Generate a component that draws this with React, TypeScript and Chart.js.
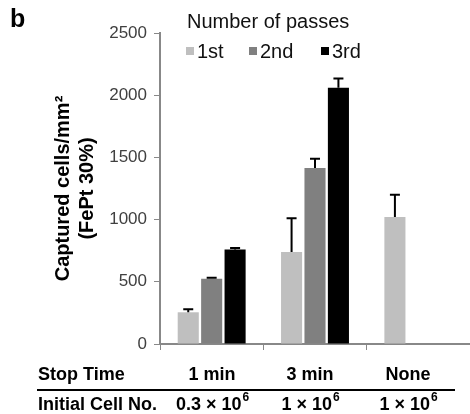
import React, { useEffect, useRef } from "react";
import { Chart, registerables } from "chart.js";

Chart.register(...registerables);

const categories = ["1 min", "3 min", "None"];
const cellNumbers = [["0.3 × 10", "6"], ["1 × 10", "6"], ["1 × 10", "6"]];
const passLabels = ["1st", "2nd", "3rd"];
const firstPass: (number | null)[] = [255, 740, 1020];
const firstErr = [25, 270, 180];
const secondPass: (number | null)[] = [525, 1415, null];
const secondErr = [8, 75, 0];
const thirdPass: (number | null)[] = [760, 2060, null];
const thirdErr = [12, 75, 0];
const yTicks = [0, 500, 1000, 1500, 2000, 2500];

const colors = ["#bfbfbf", "#808080", "#000000"];
const errors = [firstErr, secondErr, thirdErr];
const FONT = "'Liberation Sans', Arial, sans-serif";

const errorBarPlugin = {
  id: "errorBars",
  afterDatasetsDraw(chart: any) {
    const ctx = chart.ctx;
    const y = chart.scales.y;
    ctx.save();
    ctx.strokeStyle = "#000";
    ctx.lineWidth = 2;
    chart.data.datasets.forEach((ds: any, i: number) => {
      const meta = chart.getDatasetMeta(i);
      meta.data.forEach((bar: any, j: number) => {
        const v = ds.data[j];
        const e = errors[i][j];
        if (v == null || !e) return;
        const top = y.getPixelForValue(v + e);
        ctx.beginPath();
        ctx.moveTo(bar.x, bar.y);
        ctx.lineTo(bar.x, top);
        ctx.moveTo(bar.x - 5, top);
        ctx.lineTo(bar.x + 5, top);
        ctx.stroke();
      });
    });
    ctx.restore();
  },
};

const decorPlugin = {
  id: "decor",
  afterDraw(chart: any) {
    const ctx = chart.ctx;
    ctx.save();
    ctx.fillStyle = "#000";
    ctx.font = `bold 25px ${FONT}`;
    ctx.textBaseline = "alphabetic";
    ctx.textAlign = "left";
    ctx.fillText("b", 10, 27);

    ctx.font = `20px ${FONT}`;
    ctx.fillStyle = "#111";
    ctx.textBaseline = "middle";
    ctx.fillText("Number of passes", 187, 22);
    const itemX = [186, 249, 321];
    passLabels.forEach((lab, i) => {
      ctx.fillStyle = colors[i];
      ctx.fillRect(itemX[i], 47, 8, 8);
      ctx.fillStyle = "#111";
      ctx.fillText(lab, itemX[i] + 11, 52);
    });

    ctx.fillStyle = "#000";
    ctx.font = `bold 18px ${FONT}`;
    ctx.textAlign = "left";
    ctx.fillText("Stop Time", 38, 375);
    ctx.fillText("Initial Cell No.", 38, 405);
    const colX = [212, 310, 408];
    categories.forEach((c, i) => {
      ctx.textAlign = "center";
      ctx.font = `bold 18px ${FONT}`;
      ctx.fillText(c, colX[i], 375);
      const [base, sup] = cellNumbers[i];
      ctx.font = `bold 18px ${FONT}`;
      const wb = ctx.measureText(base).width;
      ctx.font = `bold 12px ${FONT}`;
      const ws = ctx.measureText(sup).width;
      const start = colX[i] - (wb + ws) / 2;
      ctx.textAlign = "left";
      ctx.font = `bold 18px ${FONT}`;
      ctx.fillText(base, start, 405);
      ctx.font = `bold 12px ${FONT}`;
      ctx.fillText(sup, start + wb + 1, 398);
    });
    ctx.strokeStyle = "#000";
    ctx.lineWidth = 2;
    ctx.beginPath();
    ctx.moveTo(37, 390);
    ctx.lineTo(455, 390);
    ctx.stroke();
    ctx.restore();
  },
};

export default function App() {
  const ref = useRef<HTMLCanvasElement>(null);
  useEffect(() => {
    document.body.style.margin = "0";
    const chart = new Chart(ref.current!, {
      type: "bar",
      data: {
        labels: categories,
        datasets: [
          { label: passLabels[0], data: firstPass, backgroundColor: colors[0] },
          { label: passLabels[1], data: secondPass, backgroundColor: colors[1] },
          { label: passLabels[2], data: thirdPass, backgroundColor: colors[2] },
        ],
      },
      options: {
        responsive: false,
        animation: false,
        devicePixelRatio: 1,
        layout: { padding: { left: 47, top: 33, right: 0, bottom: 0 } },
        datasets: { bar: { categoryPercentage: 0.68, barPercentage: 0.9, borderWidth: 0 } },
        plugins: { legend: { display: false }, tooltip: { enabled: false } },
        scales: {
          x: {
            ticks: { display: false },
            grid: { drawOnChartArea: false, tickLength: 6, color: "#888", offset: true },
            border: { color: "#888", width: 2 },
            afterFit: (s: any) => { s.height = 70; },
          },
          y: {
            min: 0,
            max: 2500,
            afterBuildTicks: (s: any) => { s.ticks = yTicks.map((v) => ({ value: v })); },
            ticks: {
              font: { family: FONT, size: 17 },
              color: "#404040",
              padding: 7,
              callback: (v: any) => String(v),
            },
            grid: { drawOnChartArea: false, tickLength: 6, color: "#888" },
            border: { color: "#888", width: 2 },
            title: {
              display: true,
              text: ["Captured cells/mm²", "(FePt 30%)"],
              font: { family: FONT, size: 20, weight: "bold" },
              color: "#000",
              padding: { top: 4, bottom: 4 },
            },
            afterFit: (s: any) => { s.width = 113; },
          },
        },
      },
      plugins: [errorBarPlugin, decorPlugin],
    });
    return () => chart.destroy();
  }, []);
  return <canvas ref={ref} width={470} height={414} style={{ display: "block" }} />;
}
